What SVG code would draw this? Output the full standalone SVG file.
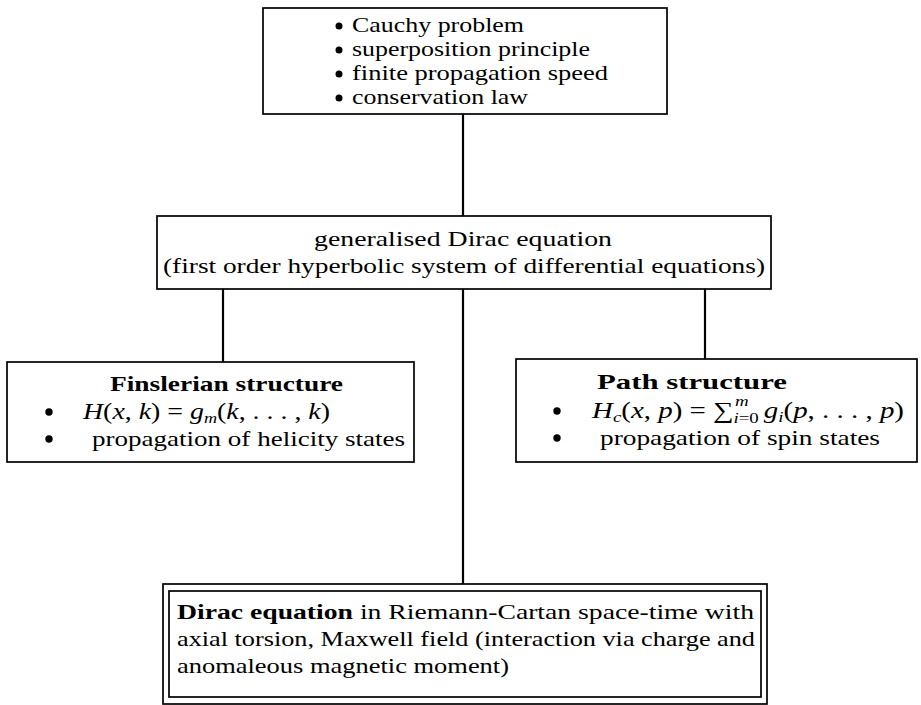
<svg xmlns="http://www.w3.org/2000/svg" width="921" height="705" viewBox="0 0 921 705">
<style>
.box{fill:#fff;stroke:#000;stroke-width:1.7}
.con{stroke:#000;stroke-width:2.2;fill:none}
text{font-family:"Liberation Serif","DejaVu Serif",serif;font-size:22px;fill:#000}
.b{font-weight:bold}
.i{font-style:italic}
.m{font-size:23px}
.s{font-size:15px}
</style>
<rect width="921" height="705" fill="#fff"/>
<g id="connectors">
<line class="con" x1="463" y1="114" x2="463" y2="216"/>
<line class="con" x1="223" y1="289" x2="223" y2="362"/>
<line class="con" x1="705" y1="289" x2="705" y2="359"/>
<line class="con" x1="463" y1="289" x2="463" y2="584"/>
</g>
<g id="top">
<rect class="box" x="263" y="8" width="404" height="106"/>
<circle cx="339" cy="26" r="3.5"/>
<text x="352" y="32" textLength="172" lengthAdjust="spacingAndGlyphs">Cauchy problem</text>
<circle cx="339" cy="50" r="3.5"/>
<text x="352" y="56" textLength="238" lengthAdjust="spacingAndGlyphs">superposition principle</text>
<circle cx="339" cy="74" r="3.5"/>
<text x="352" y="80" textLength="256" lengthAdjust="spacingAndGlyphs">finite propagation speed</text>
<circle cx="339" cy="98" r="3.5"/>
<text x="352" y="104" textLength="176" lengthAdjust="spacingAndGlyphs">conservation law</text>
</g>
<g id="generalised">
<rect class="box" x="157" y="216" width="614" height="73"/>
<text x="463" y="246" text-anchor="middle" textLength="298" lengthAdjust="spacingAndGlyphs">generalised Dirac equation</text>
<text x="464" y="273" text-anchor="middle" textLength="602" lengthAdjust="spacingAndGlyphs">(first order hyperbolic system of differential equations)</text>
</g>
<g id="finslerian">
<rect class="box" x="7" y="362" width="407" height="100"/>
<text class="b" x="110" y="391" textLength="233" lengthAdjust="spacingAndGlyphs">Finslerian structure</text>
<circle cx="49" cy="412" r="3.7"/>
<text class="m" x="83" y="419" textLength="247" lengthAdjust="spacingAndGlyphs"><tspan class="i">H</tspan>(<tspan class="i">x</tspan>, <tspan class="i">k</tspan>)  =  <tspan class="i">g</tspan><tspan class="i s" dy="4">m</tspan><tspan dy="-4">(</tspan><tspan class="i">k</tspan>, . . . , <tspan class="i">k</tspan>)</text>
<circle cx="49" cy="439" r="3.7"/>
<text x="92" y="446" textLength="313" lengthAdjust="spacingAndGlyphs">propagation of helicity states</text>
</g>
<g id="path">
<rect class="box" x="516" y="359" width="401" height="103"/>
<text class="b" x="597" y="389" textLength="190" lengthAdjust="spacingAndGlyphs">Path structure</text>
<circle cx="557" cy="411" r="3.7"/>
<text class="m" x="592" y="418" textLength="312" lengthAdjust="spacingAndGlyphs"><tspan class="i">H</tspan><tspan class="i s" dy="4">c</tspan><tspan dy="-4">(</tspan><tspan class="i">x</tspan>, <tspan class="i">p</tspan>)  =  ∑<tspan class="i s" dx="1" dy="-12">m</tspan><tspan class="s" dx="-12" dy="17"><tspan class="i">i</tspan>=0</tspan><tspan dx="4" dy="-5" class="i">g</tspan><tspan class="i s" dy="4">i</tspan><tspan dy="-4">(</tspan><tspan class="i">p</tspan>, . . . , <tspan class="i">p</tspan>)</text>
<circle cx="557" cy="438" r="3.7"/>
<text x="600" y="445" textLength="280" lengthAdjust="spacingAndGlyphs">propagation of spin states</text>
</g>
<g id="dirac">
<rect class="box" x="163" y="584" width="604" height="120"/>
<rect class="box" x="169" y="591" width="592" height="106"/>
<text x="177" y="619" textLength="577" lengthAdjust="spacingAndGlyphs"><tspan class="b">Dirac equation</tspan> in Riemann-Cartan space-time with</text>
<text x="177" y="646" textLength="578" lengthAdjust="spacingAndGlyphs">axial torsion, Maxwell field (interaction via charge and</text>
<text x="177" y="673" textLength="332" lengthAdjust="spacingAndGlyphs">anomaleous magnetic moment)</text>
</g>
</svg>
